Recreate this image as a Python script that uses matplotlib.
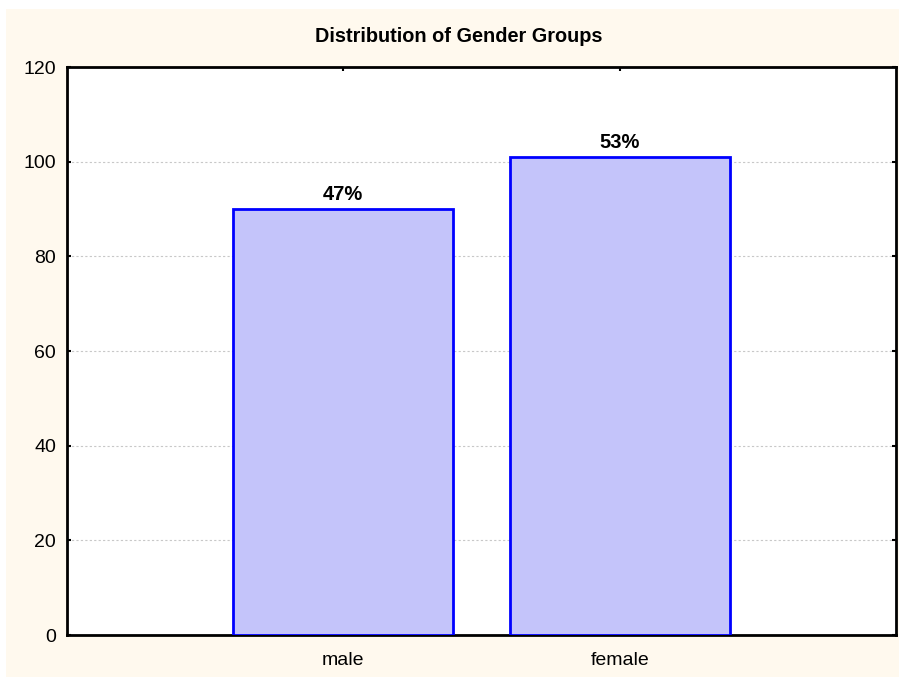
import matplotlib
matplotlib.use("Agg")
import matplotlib.pyplot as plt

categories = ["male", "female"]
counts = [90, 101]
labels = ["47%", "53%"]

plt.rcParams['font.family'] = ['Liberation Sans', 'DejaVu Sans']

fig = plt.figure(figsize=(8.99, 6.77), dpi=100, facecolor="white")
# cream panel behind the chart
fig.patches.append(plt.Rectangle((6 / 899, 0), 1 - 6 / 899, 1 - 9 / 677,
                                 transform=fig.transFigure, facecolor="#fff9ee",
                                 edgecolor="none", zorder=-1))
ax = fig.add_axes([67 / 899, 1 - 635 / 677, 829 / 899, 568 / 677])
ax.set_facecolor("white")

x = list(range(len(categories)))
bars = ax.bar(x, counts, width=0.795, color="#c4c4fa", edgecolor="#0000ff",
              linewidth=2, zorder=3)
for b, lab in zip(bars, labels):
    ax.text(b.get_x() + b.get_width() / 2, b.get_height() + 1.0, lab,
            ha="center", va="bottom", fontsize=14.5, fontweight="bold")

ax.set_xlim(-1, 2)
ax.set_ylim(0, 120)
ax.set_yticks([0, 20, 40, 60, 80, 100, 120])
ax.set_xticks(x)
ax.set_xticklabels(categories)
ax.tick_params(axis="both", direction="in", length=3, width=1.5, labelsize=14,
               top=True, right=True)
ax.tick_params(axis="x", pad=12)
ax.tick_params(axis="y", pad=8)
ax.grid(axis="y", color="#c8c8c8", linestyle=(0, (2, 2)), linewidth=0.8, zorder=0)
for s in ax.spines.values():
    s.set_linewidth(2)

fig.text(459 / 899, 1 - 36 / 677, "Distribution of Gender Groups",
         ha="center", va="center", fontsize=14.3, fontweight="bold")

plt.savefig("out.png", dpi=100, facecolor=fig.get_facecolor())
